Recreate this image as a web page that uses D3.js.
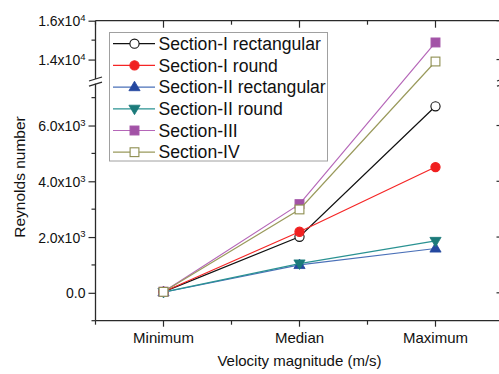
<!DOCTYPE html>
<html><head><meta charset="utf-8">
<script src="https://cdn.jsdelivr.net/npm/d3@7"></script>
<style>
body{margin:0;background:#fff}
svg{display:block}
text{font-family:Arial,"Liberation Sans",sans-serif;fill:#111}
</style>
</head><body>
<svg id="c" width="499" height="374"></svg>
<script>
// ---------- data ----------
const categories = ["Minimum", "Median", "Maximum"];
const seriesNames = ["Section-I rectangular", "Section-I round", "Section-II rectangular", "Section-II round", "Section-III", "Section-IV"];
const sectionIRect  = [35, 2010, 6690];
const sectionIRound = [40, 2190, 4510];
const sectionIIRect = [20, 1000, 1590];
const sectionIIRound= [25, 1050, 1860];
const sectionIII    = [40, 3180, 14880];
const sectionIV     = [35, 2990, 13900];
const lowerTicks = [0, 2000, 4000, 6000];
const lowerMinor = [-1000, 1000, 3000, 5000, 7000];
const upperTicks = [14000, 16000];
const upperMinor = [15000];
const xTitle = "Velocity magnitude (m/s)";
const yTitle = "Reynolds number";

const seriesValues = [sectionIRect, sectionIRound, sectionIIRect, sectionIIRound, sectionIII, sectionIV];
const styles = [
  {line:"#111111", stroke:"#111111", fill:"#ffffff", shape:"circle"},
  {line:"#f52525", stroke:"#f02020", fill:"#f02020", shape:"circle"},
  {line:"#4a70b8", stroke:"#2448a0", fill:"#2448a0", shape:"up"},
  {line:"#2a9292", stroke:"#1b7a7a", fill:"#1b7a7a", shape:"down"},
  {line:"#b566b8", stroke:"#a252a6", fill:"#a252a6", shape:"square"},
  {line:"#9a9a5c", stroke:"#8e8e50", fill:"#ffffff", shape:"square"}
];

// ---------- layout ----------
const pL = 95.5, pR = 503.5, pT = 20.7, pB = 320.7;
const breakTop = 79, breakBot = 83.7;
const svg = d3.select("#c");

const x = d3.scaleBand().domain(categories).range([pL, pR]).padding(0);
const cx = c => x(c) + x.bandwidth() / 2;
const yLow = d3.scaleLinear().domain([-1000, 7500]).range([pB, breakBot]);
const yUp  = d3.scaleLinear().domain([13000, 16000]).range([breakTop, pT]);
const y = v => v >= 10000 ? yUp(v) : yLow(v);

const axisColor = "#2a2a2a";

function fmt(d){
  if (d === 0) return null;
  const e = Math.floor(Math.log10(d));
  return {m: (d / Math.pow(10, e)).toFixed(1) + "x10", e: e};
}
function styleYAxis(g){
  g.select(".domain").remove();
  g.selectAll(".tick line").attr("stroke", axisColor).attr("stroke-width", 1.2);
  g.selectAll(".tick text").each(function(d){
    const t = d3.select(this).text(null).attr("font-size", 14).attr("dy", "0.36em");
    const f = fmt(d);
    if (!f) { t.text("0.0"); return; }
    t.append("tspan").text(f.m);
    t.append("tspan").attr("dy", "-0.55em").attr("font-size", 9.5).text(f.e);
  });
}

// left axes
const gL1 = svg.append("g").attr("transform", `translate(${pL},0)`)
  .call(d3.axisLeft(yLow).tickValues(lowerTicks).tickSize(7).tickPadding(3));
styleYAxis(gL1);
const gL2 = svg.append("g").attr("transform", `translate(${pL},0)`)
  .call(d3.axisLeft(yUp).tickValues(upperTicks).tickSize(7).tickPadding(3));
styleYAxis(gL2);
// minor left ticks
const minorY = lowerMinor.map(v => yLow(v)).concat(upperMinor.map(v => yUp(v)));
svg.append("g").selectAll("line").data(minorY).join("line")
  .attr("x1", pL - 4).attr("x2", pL).attr("y1", d => d).attr("y2", d => d)
  .attr("stroke", axisColor).attr("stroke-width", 1.2);
// right (inward) ticks
const majorY = lowerTicks.map(v => yLow(v)).concat(upperTicks.map(v => yUp(v)));
svg.append("g").selectAll("line").data(majorY).join("line")
  .attr("x1", pR - 7).attr("x2", pR).attr("y1", d => d).attr("y2", d => d)
  .attr("stroke", axisColor).attr("stroke-width", 1.2);
svg.append("g").selectAll("line").data(minorY).join("line")
  .attr("x1", pR - 4).attr("x2", pR).attr("y1", d => d).attr("y2", d => d)
  .attr("stroke", axisColor).attr("stroke-width", 1.2);

// bottom axis
const gB = svg.append("g").attr("transform", `translate(0,${pB})`)
  .call(d3.axisBottom(x).tickSize(6).tickPadding(4));
gB.select(".domain").remove();
gB.selectAll(".tick line").attr("stroke", axisColor).attr("stroke-width", 1.2);
gB.selectAll(".tick text").attr("font-size", 15).attr("dy", null).attr("y", 22.5);
const bounds = [0,1,2,3].map(i => pL + i * x.step());
svg.append("g").selectAll("line").data(bounds).join("line")
  .attr("x1", d => d).attr("x2", d => d).attr("y1", pB).attr("y2", pB + 4)
  .attr("stroke", axisColor).attr("stroke-width", 1.2);
// top inward ticks
svg.append("g").selectAll("line").data(categories).join("line")
  .attr("x1", d => cx(d)).attr("x2", d => cx(d)).attr("y1", pT).attr("y2", pT + 7)
  .attr("stroke", axisColor).attr("stroke-width", 1.2);
svg.append("g").selectAll("line").data(bounds).join("line")
  .attr("x1", d => d).attr("x2", d => d).attr("y1", pT).attr("y2", pT + 4)
  .attr("stroke", axisColor).attr("stroke-width", 1.2);

// frame
const frame = svg.append("g").attr("stroke", axisColor).attr("stroke-width", 1.3).attr("fill", "none");
frame.append("line").attr("x1", pL).attr("x2", pR).attr("y1", pT).attr("y2", pT);
frame.append("line").attr("x1", pL).attr("x2", pR).attr("y1", pB).attr("y2", pB);
[pL, pR].forEach(xx => {
  frame.append("line").attr("x1", xx).attr("x2", xx).attr("y1", pT).attr("y2", breakTop);
  frame.append("line").attr("x1", xx).attr("x2", xx).attr("y1", breakBot).attr("y2", pB);
  frame.append("line").attr("x1", xx - 6.5).attr("x2", xx + 6.5).attr("y1", breakTop + 2).attr("y2", breakTop - 2);
  frame.append("line").attr("x1", xx - 6.5).attr("x2", xx + 6.5).attr("y1", breakBot + 2.5).attr("y2", breakBot - 1.5);
});

// ---------- series ----------
function marker(g, s, px, py){
  if (s.shape === "circle") {
    g.append("circle").attr("cx", px).attr("cy", py).attr("r", 4.6)
      .attr("fill", s.fill).attr("stroke", s.stroke).attr("stroke-width", 1.1);
  } else if (s.shape === "square") {
    g.append("rect").attr("x", px - 4.4).attr("y", py - 4.4).attr("width", 8.8).attr("height", 8.8)
      .attr("fill", s.fill).attr("stroke", s.stroke).attr("stroke-width", 1.1);
  } else {
    const h = 9.5, w = 5.6, dir = s.shape === "up" ? 1 : -1;
    const p = d3.path();
    p.moveTo(px, py - dir * h * 0.62);
    p.lineTo(px + w, py + dir * h * 0.38);
    p.lineTo(px - w, py + dir * h * 0.38);
    p.closePath();
    g.append("path").attr("d", p.toString()).attr("fill", s.fill).attr("stroke", s.stroke).attr("stroke-width", 0.8);
  }
}

const line = d3.line().x((d, i) => cx(categories[i])).y(d => y(d));
seriesValues.forEach((vals, k) => {
  const s = styles[k];
  const g = svg.append("g");
  g.append("path").attr("d", line(vals)).attr("fill", "none").attr("stroke", s.line).attr("stroke-width", 1.2);
  vals.forEach((v, i) => marker(g, s, cx(categories[i]), y(v)));
});

// ---------- titles ----------
svg.append("text").attr("x", cx("Median")).attr("y", 366).attr("text-anchor", "middle")
  .attr("font-size", 15).text(xTitle);
svg.append("text").attr("transform", "translate(24.5,177) rotate(-90)").attr("text-anchor", "middle")
  .attr("font-size", 15.5).text(yTitle);

// ---------- legend ----------
const lg = svg.append("g");
lg.append("rect").attr("x", 109.5).attr("y", 32.5).attr("width", 218).attr("height", 128.5)
  .attr("fill", "#fff").attr("stroke", "#a0a0a0").attr("stroke-width", 1);
seriesNames.forEach((name, k) => {
  const s = styles[k];
  const yy = 43.7 + k * 21.7;
  lg.append("line").attr("x1", 113).attr("x2", 155).attr("y1", yy).attr("y2", yy)
    .attr("stroke", s.line).attr("stroke-width", 1.2);
  marker(lg, s, 134.5, yy);
  lg.append("text").attr("x", 158.5).attr("y", yy + 6.2).attr("font-size", 17.6).text(name);
});
</script>
</body></html>
